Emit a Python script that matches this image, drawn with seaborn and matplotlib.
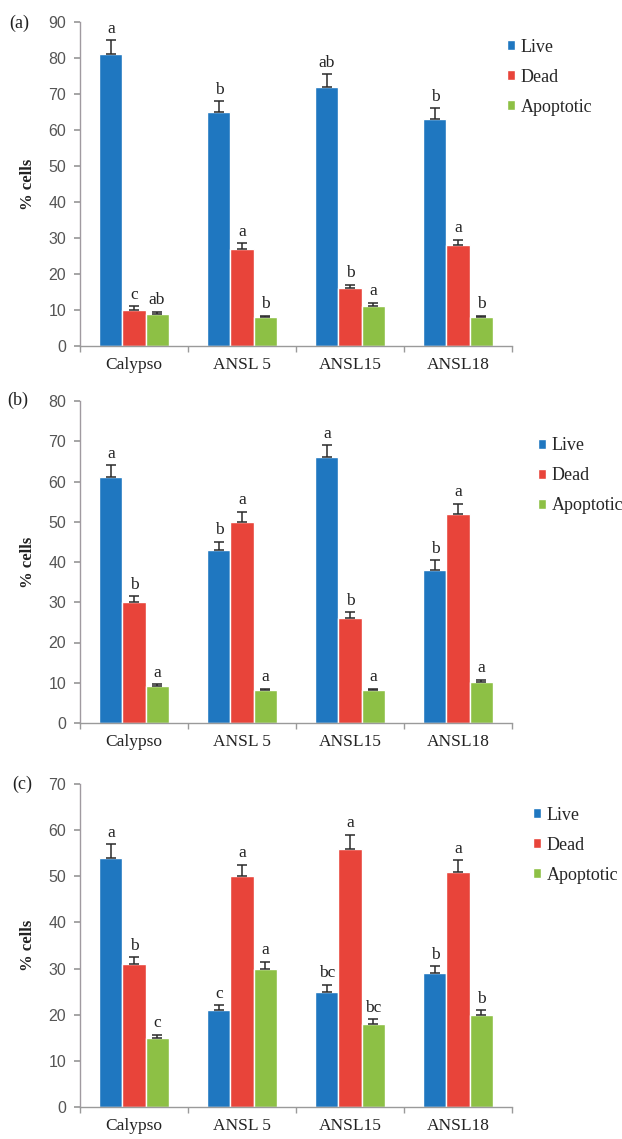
import matplotlib
matplotlib.use("Agg")
import matplotlib.pyplot as plt
import seaborn as sns
import pandas as pd
import numpy as np

# Cell-line categories and cell states
categories = ["Calypso", "ANSL 5", "ANSL15", "ANSL18"]
statuses = ["Live", "Dead", "Apoptotic"]

# Panel (a)
live_a = [81, 65, 72, 63]
live_err_a = [4, 3, 3.5, 3]
dead_a = [10, 27, 16, 28]
dead_err_a = [1, 1.5, 1, 1.5]
apop_a = [9, 8, 11, 8]
apop_err_a = [0.5, 0.4, 1, 0.4]
letters_live_a = ["a", "b", "ab", "b"]
letters_dead_a = ["c", "a", "b", "a"]
letters_apop_a = ["ab", "b", "a", "b"]

# Panel (b)
live_b = [61, 43, 66, 38]
live_err_b = [3, 2, 3, 2.5]
dead_b = [30, 50, 26, 52]
dead_err_b = [1.5, 2.5, 1.5, 2.5]
apop_b = [9.3, 8.2, 8.2, 10.2]
apop_err_b = [0.3, 0.3, 0.3, 0.5]
letters_live_b = ["a", "b", "a", "b"]
letters_dead_b = ["b", "a", "b", "a"]
letters_apop_b = ["a", "a", "a", "a"]

# Panel (c)
live_c = [54, 21, 25, 29]
live_err_c = [3, 1, 1.5, 1.5]
dead_c = [31, 50, 56, 51]
dead_err_c = [1.5, 2.5, 3, 2.5]
apop_c = [15, 30, 18, 20]
apop_err_c = [0.7, 1.5, 1, 1]
letters_live_c = ["a", "c", "bc", "b"]
letters_dead_c = ["b", "a", "a", "a"]
letters_apop_c = ["c", "a", "bc", "b"]

y_max = [90, 80, 70]
panel_tags = ["(a)", "(b)", "(c)"]

palette = {"Live": "#1F77C0", "Dead": "#E8443A", "Apoptotic": "#8DC045"}

sns.set_theme(style="white")
plt.rcParams["font.family"] = ["Liberation Serif", "DejaVu Serif"]

W, H = 622, 1139
fig = plt.figure(figsize=(W / 100, H / 100), dpi=100)

# axes placement in pixels: (top pixel of y max, bottom pixel of zero line)
axes_px = [(22, 346), (401, 723), (784, 1107)]
legend_px = [(507, 77), (538, 476), (533, 845)]
tag_px = [(9, 23), (7, 400), (12, 784)]
left_px, right_px = 80, 512

panels = [
    (live_a, live_err_a, dead_a, dead_err_a, apop_a, apop_err_a,
     letters_live_a, letters_dead_a, letters_apop_a),
    (live_b, live_err_b, dead_b, dead_err_b, apop_b, apop_err_b,
     letters_live_b, letters_dead_b, letters_apop_b),
    (live_c, live_err_c, dead_c, dead_err_c, apop_c, apop_err_c,
     letters_live_c, letters_dead_c, letters_apop_c),
]

for i, p in enumerate(panels):
    live, le, dead, de, apop, ae, ll, ld, la = p
    top, bot = axes_px[i]
    ax = fig.add_axes([left_px / W, 1 - bot / H,
                       (right_px - left_px) / W, (bot - top) / H])
    df = pd.DataFrame({
        "line": categories * 3,
        "status": [s for s in statuses for _ in categories],
        "pct": live + dead + apop,
    })
    sns.barplot(data=df, x="line", y="pct", hue="status", order=categories,
                hue_order=statuses, palette=palette, width=0.64,
                errorbar=None, saturation=1, ax=ax, legend=True)
    errs = [le, de, ae]
    lets = [ll, ld, la]
    for cont, err, let in zip(ax.containers, errs, lets):
        xs = [b.get_x() + b.get_width() / 2 for b in cont]
        hs = [b.get_height() for b in cont]
        ax.errorbar(xs, hs, yerr=[np.zeros(len(err)), err], fmt="none",
                    ecolor="#2a2a2a", elinewidth=1.1, capsize=3.5,
                    capthick=1.1)
        for x, h, e, t in zip(xs, hs, err, let):
            ax.annotate(t, (x, h + e), xytext=(0, 2.5),
                        textcoords="offset points", ha="center",
                        va="bottom", fontsize=12.5, color="#222222")

    ax.set_xlim(-0.5, 3.5)
    ax.set_ylim(0, y_max[i])
    ax.set_yticks(np.arange(0, y_max[i] + 1, 10))
    ax.set_xlabel("")
    ax.set_ylabel("")
    for s in ["top", "right"]:
        ax.spines[s].set_visible(False)
    ax.spines["left"].set_color("#a09aa0")
    ax.spines["bottom"].set_color("#9a9a9a")
    ax.spines["left"].set_linewidth(1)
    ax.spines["bottom"].set_linewidth(1)
    ax.set_xticks(np.arange(-0.5, 4, 1), minor=True)
    ax.tick_params(axis="x", which="major", length=0, pad=8,
                   labelsize=12.5, labelcolor="#222222")
    ax.tick_params(axis="x", which="minor", length=4, direction="out",
                   color="#9a9a9a", bottom=True)
    ax.tick_params(axis="y", length=4, direction="out", color="#9a9a9a",
                   left=True, pad=6, labelsize=11.5, labelcolor="#555555")
    for lab in ax.get_yticklabels():
        lab.set_family(["Liberation Sans", "DejaVu Sans"])

    lx, ly = legend_px[i]
    ax.legend(loc="center left", bbox_to_anchor=(lx / W, 1 - ly / H),
              bbox_transform=fig.transFigure, frameon=False,
              fontsize=13, handlelength=0.45, handleheight=0.45,
              handletextpad=0.3, labelspacing=0.72, borderpad=0,
              borderaxespad=0)

    tx, ty = tag_px[i]
    fig.text(tx / W, 1 - ty / H, panel_tags[i], ha="left", va="center",
             fontsize=13, color="#222222")
    fig.text(28 / W, 1 - (top + bot) / 2 / H, "% cells", rotation=90,
             ha="center", va="center", fontsize=12, fontweight="bold",
             color="#222222")

fig.savefig("out.png", dpi=100, facecolor="white")
